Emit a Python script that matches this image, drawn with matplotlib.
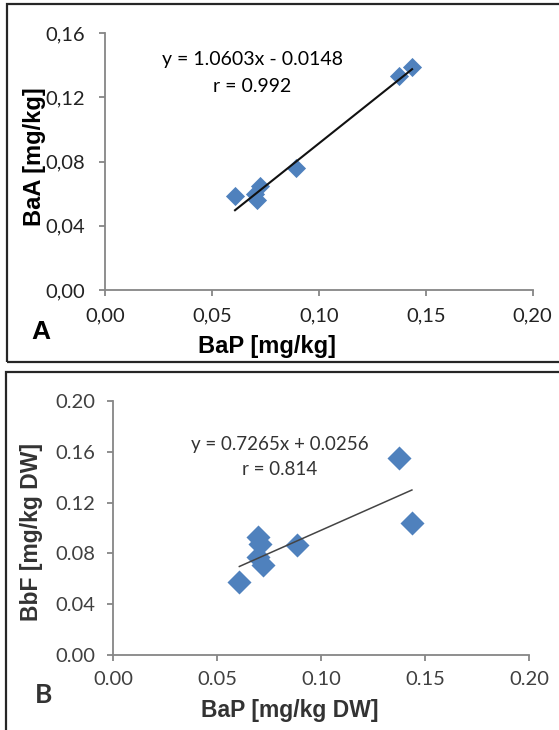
import matplotlib
matplotlib.use("Agg")
import matplotlib.pyplot as plt
from matplotlib.patches import Rectangle

# Panel A: BaA vs BaP
bap_a = [0.0608, 0.0709, 0.0701, 0.0725, 0.0892, 0.1376, 0.1436]
baa = [0.0587, 0.0560, 0.0600, 0.0649, 0.0762, 0.1333, 0.1390]
slope_a, icept_a = 1.0603, -0.0148
eq_a = "y = 1.0603x - 0.0148"
r_a = "r = 0.992"
xticks_a = [0.00, 0.05, 0.10, 0.15, 0.20]
xticklabels_a = ["0,00", "0,05", "0,10", "0,15", "0,20"]
yticks_a = [0.00, 0.04, 0.08, 0.12, 0.16]
yticklabels_a = ["0,00", "0,04", "0,08", "0,12", "0,16"]

# Panel B: BbF vs BaP
bap_b = [0.0607, 0.0698, 0.0706, 0.0697, 0.0722, 0.0885, 0.1375, 0.1436]
bbf = [0.0577, 0.0927, 0.0875, 0.0768, 0.0706, 0.0866, 0.1549, 0.1042]
slope_b, icept_b = 0.7265, 0.0256
eq_b = "y = 0.7265x + 0.0256"
r_b = "r = 0.814"
xticks_b = [0.00, 0.05, 0.10, 0.15, 0.20]
xticklabels_b = ["0.00", "0.05", "0.10", "0.15", "0.20"]
yticks_b = [0.00, 0.04, 0.08, 0.12, 0.16, 0.20]
yticklabels_b = ["0.00", "0.04", "0.08", "0.12", "0.16", "0.20"]

BLUE = "#4F81BD"
AXIS_GRAY = "#868686"
TICK_FONT = "Lato"
LABEL_FONT = "Liberation Sans"
TICK_SIZE = 14.5

W, H = 559, 730
fig = plt.figure(figsize=(W / 100, H / 100), dpi=100)


def px_rect(left, top, right, bottom):
    return [left / W, (H - bottom) / H, (right - left) / W, (bottom - top) / H]


def style_axes(ax, xticks, xlabels, yticks, ylabels, ylim, xpad, ypad, color):
    ax.set_xlim(0, 0.20)
    ax.set_ylim(*ylim)
    for side in ("top", "right"):
        ax.spines[side].set_visible(False)
    for side in ("left", "bottom"):
        ax.spines[side].set_color(AXIS_GRAY)
        ax.spines[side].set_linewidth(1.3)
    ax.set_xticks(xticks)
    ax.set_xticklabels(xlabels, fontname=TICK_FONT, fontsize=TICK_SIZE, color=color)
    ax.set_yticks(yticks)
    ax.set_yticklabels(ylabels, fontname=TICK_FONT, fontsize=TICK_SIZE, color=color)
    ax.tick_params(axis="x", direction="out", length=4.5, width=1.3, color=AXIS_GRAY, pad=xpad)
    ax.tick_params(axis="y", direction="out", length=4.5, width=1.3, color=AXIS_GRAY, pad=ypad)
    ax.set_facecolor("none")


# ---- Panel A ----
ax1 = fig.add_axes(px_rect(105, 33, 532.7, 290))
ax1.scatter(bap_a, baa, marker="D", s=95, color=BLUE, zorder=3, linewidths=0)
xa = [min(bap_a), max(bap_a)]
ax1.plot(xa, [slope_a * v + icept_a for v in xa], color="#111111", lw=1.5, zorder=4)
style_axes(ax1, xticks_a, xticklabels_a, yticks_a, yticklabels_a, (0, 0.16), 8, 10, "#222222")
ax1.text(0.069, 0.1432, eq_a, ha="center", va="center", fontname=TICK_FONT, fontsize=14)
ax1.text(0.069, 0.1270, r_a, ha="center", va="center", fontname=TICK_FONT, fontsize=14)

fig.text(266.5 / W, 1 - 346.5 / H, "BaP [mg/kg]", ha="center", va="center",
         fontname=LABEL_FONT, fontweight="bold", fontsize=17)
fig.text(34 / W, 1 - 157 / H, "BaA [mg/kg]", ha="center", va="center", rotation=90,
         fontname=LABEL_FONT, fontweight="bold", fontsize=17)
fig.text(41 / W, 1 - 332 / H, "A", ha="center", va="center",
         fontname=LABEL_FONT, fontweight="bold", fontsize=19)

# ---- Panel B ----
ax2 = fig.add_axes(px_rect(113, 401, 529.3, 655))
ax2.scatter(bap_b, bbf, marker="D", s=150, color=BLUE, zorder=3, linewidths=0)
xb = [min(bap_b), max(bap_b)]
ax2.plot(xb, [slope_b * v + icept_b for v in xb], color="#444444", lw=1.1, zorder=4)
style_axes(ax2, xticks_b, xticklabels_b, yticks_b, yticklabels_b, (0, 0.20), 7, 8, "#404040")
ax2.text(0.0802, 0.1654, eq_b, ha="center", va="center", fontname=TICK_FONT,
         fontsize=13.5, color="#333333")
ax2.text(0.0802, 0.1457, r_b, ha="center", va="center", fontname=TICK_FONT,
         fontsize=13.5, color="#333333")

fig.text(289.5 / W, 1 - 711 / H, "BaP [mg/kg DW]", ha="center", va="center",
         fontname=LABEL_FONT, fontweight="bold", fontsize=16.5, color="#333333")
fig.text(32 / W, 1 - 532 / H, "BbF [mg/kg DW]", ha="center", va="center", rotation=90,
         fontname=LABEL_FONT, fontweight="bold", fontsize=16.5, color="#333333")
fig.text(44 / W, 1 - 695 / H, "B", ha="center", va="center",
         fontname=TICK_FONT, fontweight="bold", fontsize=19, color="#333333")

# panel frames
fig.add_artist(Rectangle((7 / W, 1 - 362 / H), 600 / W, 358 / H, transform=fig.transFigure,
                         fill=False, edgecolor="#262626", lw=1.6))
fig.add_artist(Rectangle((6 / W, 1 - 760 / H), 600 / W, 388 / H, transform=fig.transFigure,
                         fill=False, edgecolor="#262626", lw=1.6))

fig.savefig("out.png", dpi=100)
